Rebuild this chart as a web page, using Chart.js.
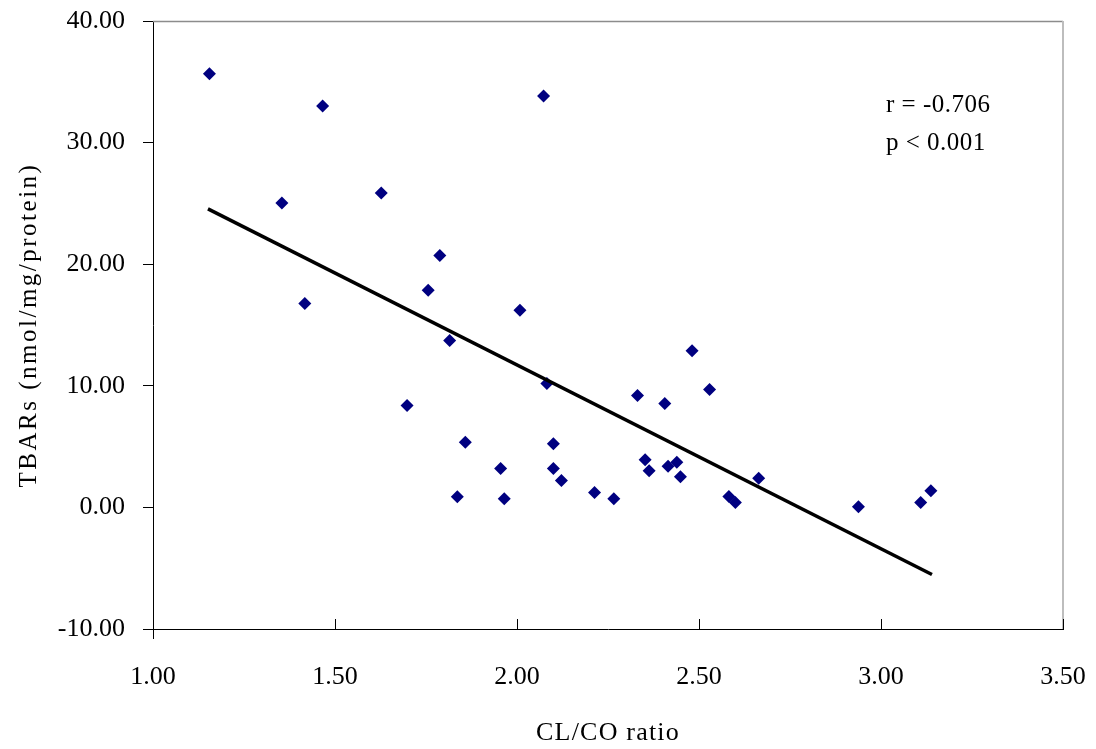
<!DOCTYPE html>
<html lang="en">
  <head>
    <meta charset="UTF-8" />
    <title>TBARs vs CL/CO ratio</title>
    <script src="https://cdn.jsdelivr.net/npm/chart.js@4.4.1/dist/chart.umd.min.js"></script>
    <style>
      body { margin: 0; background: #fff; }
      #wrap { width: 1096px; height: 749px; }
    </style>
  </head>
  <body>
    <div id="wrap"><canvas id="myChart" width="1096" height="749"></canvas></div>

    <script>
      // CL/CO ratio against TBARs, one point per sample
      const clcoRatio = [
        1.155, 1.466, 2.073, 1.354, 1.627, 1.417, 1.788, 1.756, 1.815, 2.008,
        1.698, 2.082, 2.481, 2.331, 2.406, 2.529, 1.858, 2.100, 1.955, 2.100,
        2.122, 1.836, 1.965, 2.213, 2.266, 2.352, 2.363, 2.415, 2.439, 2.449,
        2.664, 2.582, 2.600, 2.938, 3.109, 3.137
      ];
      const tbars = [
        35.67, 33.01, 33.83, 25.04, 25.86, 16.76, 20.71, 17.85, 13.72, 16.21,
        8.38, 10.18, 12.88, 9.21, 8.54, 9.69, 5.36, 5.23, 3.20, 3.20,
        2.21, 0.87, 0.71, 1.22, 0.71, 3.92, 3.01, 3.38, 3.72, 2.52,
        2.39, 0.90, 0.40, 0.05, 0.40, 1.36
      ];

      // linear fit, drawn between the smallest and largest ratio
      const fitX = [1.151, 3.140];
      const fitY = [24.55, -5.52];

      const statLines = ['r = -0.706', 'p < 0.001'];

      const serif = 'Liberation Serif';

      // letter spacing for each axis title
      const titleSpacing = { x: '1.2px', y: '2.5px' };

      const framePlugin = {
        id: 'frame',
        beforeDraw(chart) {
          for (const id of Object.keys(chart.scales)) {
            const scale = chart.scales[id];
            if (scale._spaced) continue;
            const drawTitle = scale.drawTitle.bind(scale);
            scale.drawTitle = function () {
              const c = chart.ctx;
              c.save();
              c.letterSpacing = titleSpacing[id] || '0px';
              drawTitle();
              c.restore();
            };
            scale._spaced = true;
          }
        },
        afterDraw(chart) {
          const { ctx, chartArea: a, scales } = chart;
          ctx.save();
          // plot border, top and right only
          ctx.lineWidth = 1.5;
          ctx.strokeStyle = '#8c8c8c';
          ctx.beginPath();
          ctx.moveTo(a.left, a.top + 0.5);
          ctx.lineTo(a.right, a.top + 0.5);
          ctx.stroke();
          ctx.strokeStyle = '#bdbdbd';
          ctx.lineWidth = 2;
          ctx.beginPath();
          ctx.moveTo(a.right, a.top);
          ctx.lineTo(a.right, a.bottom);
          ctx.stroke();

          // x tick marks point up into the plot
          const x = scales.x;
          ctx.strokeStyle = '#000';
          ctx.lineWidth = 1;
          x.ticks.forEach((t, i) => {
            const px = Math.round(x.getPixelForTick(i)) + 0.5;
            ctx.beginPath();
            if (i === 0) {
              ctx.moveTo(px, a.bottom);
              ctx.lineTo(px, a.bottom + 10);
            } else {
              ctx.moveTo(px, a.bottom);
              ctx.lineTo(px, a.bottom - 10);
            }
            ctx.stroke();
          });

          // correlation text
          ctx.fillStyle = '#000';
          ctx.font = '25px "' + serif + '"';
          ctx.letterSpacing = '0.5px';
          ctx.textBaseline = 'alphabetic';
          ctx.textAlign = 'left';
          statLines.forEach((s, i) => ctx.fillText(s, a.right - 177, 112 + i * 38));
          ctx.restore();
        }
      };

      const ctx = document.getElementById('myChart').getContext('2d');
      const myChart = new Chart(ctx, {
        type: 'scatter',
        data: {
          datasets: [
            {
              label: 'TBARs',
              data: clcoRatio.map((v, i) => ({ x: v, y: tbars[i] })),
              pointStyle: 'rectRot',
              pointRadius: 6.5,
              backgroundColor: '#000080',
              borderColor: '#000080',
              borderWidth: 0,
              order: 1
            },
            {
              label: 'Fit',
              type: 'line',
              data: fitX.map((v, i) => ({ x: v, y: fitY[i] })),
              borderColor: '#000',
              borderWidth: 3.5,
              pointRadius: 0,
              fill: false,
              order: 0
            }
          ]
        },
        options: {
          responsive: false,
          animation: false,
          layout: { padding: { left: 0, top: 21, right: 33, bottom: 0 } },
          plugins: {
            legend: { display: false },
            tooltip: { enabled: false }
          },
          scales: {
            x: {
              type: 'linear',
              min: 1,
              max: 3.5,
              afterFit: (s) => {
                s.height = 120;
                s.paddingLeft = 0;
                s.paddingRight = 0;
              },
              ticks: {
                stepSize: 0.5,
                color: '#000',
                padding: 33,
                maxRotation: 0,
                font: { family: serif, size: 26 },
                callback: (v) => v.toFixed(2)
              },
              grid: { drawOnChartArea: false, drawTicks: false },
              border: { display: true, color: '#000', width: 1 },
              title: {
                display: true,
                text: 'CL/CO ratio',
                color: '#000',
                font: { family: serif, size: 26 },
                padding: { top: 2, bottom: 0 }
              }
            },
            y: {
              min: -10,
              max: 40,
              afterFit: (s) => {
                s.width = 153;
                s.paddingTop = 0;
                s.paddingBottom = 0;
              },
              ticks: {
                stepSize: 10,
                color: '#000',
                padding: 18,
                font: { family: serif, size: 26 },
                callback: (v) => v.toFixed(2)
              },
              grid: { drawOnChartArea: false, drawTicks: true, tickLength: 10, color: '#000' },
              border: { display: true, color: '#000', width: 1 },
              title: {
                display: true,
                text: 'TBARs (nmol/mg/protein)',
                color: '#000',
                font: { family: serif, size: 25 },
                padding: { top: 14, bottom: 0 }
              }
            }
          }
        },
        plugins: [framePlugin]
      });
    </script>
  </body>
</html>
